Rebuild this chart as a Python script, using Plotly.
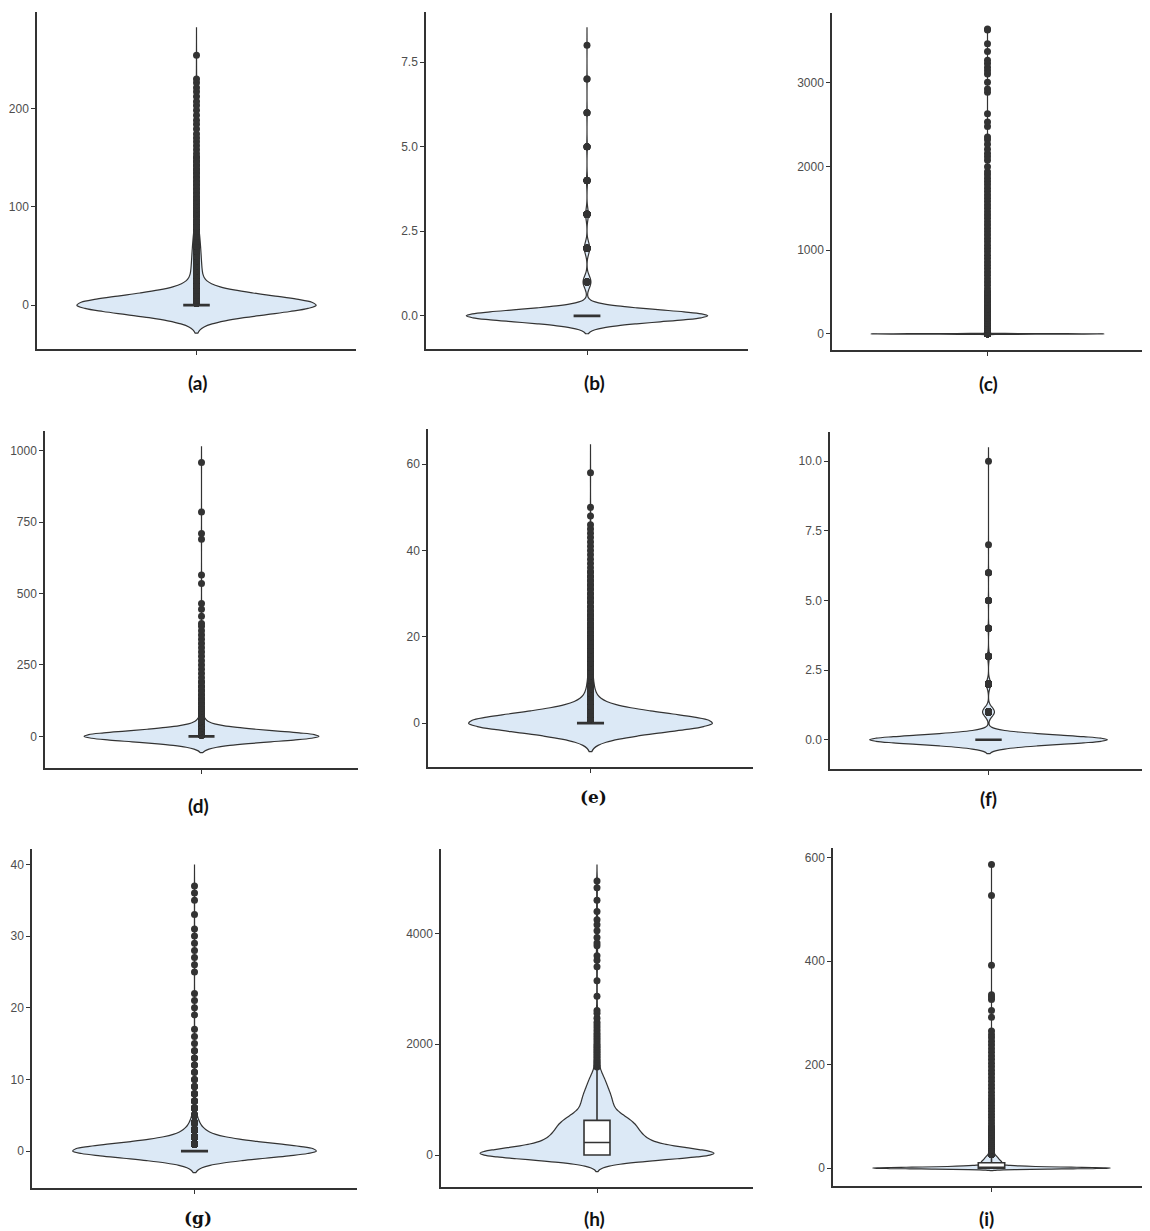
import numpy as np
import plotly.graph_objects as go

# ---------------- data (value / frequency tables) ----------------
# (a)
a_values = [0, 2, 5, 10, 15, 20, 25, 30, 35, 40, 45, 50, 55, 60, 65, 70, 75, 80, 85, 90,
            94, 98, 102, 106, 110, 114, 118, 122, 126, 130, 134, 138, 142, 146, 150]
a_counts = [2000, 20, 28, 27, 26, 25, 24, 22, 20, 19, 18, 17, 16, 15, 14, 12, 10, 8, 6, 4,
            3, 3, 3, 3, 2, 2, 2, 2, 2, 2, 2, 2, 2, 2, 2]
a_single = [154, 158, 162, 166, 170, 174, 179, 184, 188, 193, 198, 203, 207, 212, 217,
            221, 226, 230, 254]
a_ticks = [0, 100, 200]

# (b)
b_values = [0, 1, 2, 3, 4, 5, 6, 7]
b_counts = [2000, 65, 45, 22, 8, 5, 3, 2]
b_single = [8]
b_ticks = [0.0, 2.5, 5.0, 7.5]

# (c)
c_values = [0, 3, 8, 15, 25, 40, 60, 80, 100, 130, 160, 190, 220, 260, 300, 340, 380, 420, 460, 500]
c_counts = [3000, 40, 30, 20, 15, 10, 8, 6, 5, 4, 3, 3, 3, 3, 3, 2, 2, 2, 2, 2]
c_single = [540, 580, 620, 660, 700, 740, 780, 820, 860, 900, 940, 980, 1020, 1060, 1100,
            1140, 1180, 1220, 1260, 1300, 1340, 1380, 1420, 1460, 1500, 1540, 1580, 1620,
            1660, 1700, 1740, 1780, 1820, 1860, 1900, 1937, 1996, 2075, 2115, 2154, 2205,
            2265, 2320, 2352, 2478, 2530, 2628, 2885, 2925, 3004, 3103, 3142, 3182, 3229,
            3268, 3372, 3466, 3630, 3640]
c_ticks = [0, 1000, 2000, 3000]

# (d)
d_values = [0, 5, 10, 15, 20, 25, 30, 35, 40, 45, 50, 55, 60, 70, 80, 90, 100, 115, 130,
            145, 160, 175, 190]
d_counts = [2000, 22, 20, 18, 16, 14, 13, 12, 11, 10, 9, 8, 7, 6, 5, 4, 3, 3, 3,
            2, 2, 2, 2]
d_single = [205, 220, 235, 250, 265, 280, 295, 310, 325, 340, 355, 370, 385, 395, 420,
            445, 465, 535, 565, 690, 710, 785, 958]
d_ticks = [0, 250, 500, 750, 1000]

# (e)
e_values = [0, 1, 2, 3, 4, 5, 6, 7, 8, 9, 10, 11, 12, 13, 14, 15, 16, 17, 18, 19, 20,
            21, 22, 23, 24, 25, 26, 27, 28, 29, 30, 31, 32, 33, 34, 35]
e_counts = [2000, 60, 45, 35, 28, 22, 18, 15, 12, 10, 9, 8, 7, 7, 6, 6, 5, 5, 5, 4, 4,
            3, 3, 3, 3, 3, 2, 2, 2, 2, 2, 2, 2, 2, 2, 2]
e_single = [36, 37, 38, 39, 40, 41, 42, 43, 44, 45, 46, 48, 50, 58]
e_ticks = [0, 20, 40, 60]

# (f)
f_values = [0, 1, 2, 3, 4, 5, 6]
f_counts = [2000, 100, 34, 15, 6, 4, 3]
f_single = [7, 10]
f_ticks = [0.0, 2.5, 5.0, 7.5, 10.0]

# (g)
g_values = [0, 1, 2, 3, 4, 5, 6, 7, 8, 9, 10, 11, 12, 13, 14]
g_counts = [2000, 200, 110, 60, 30, 15, 8, 5, 4, 3, 2, 2, 2, 2, 2]
g_single = [15, 16, 17, 19, 20, 21, 22, 25, 26, 27, 28, 29, 30, 31, 33, 35, 36, 37]
g_ticks = [0, 10, 20, 30, 40]

# (h)
h_values = [0, 25, 75, 125, 175, 225, 275, 325, 375, 425, 475, 525, 575, 625, 675, 725,
            775, 825, 875, 925, 975, 1025, 1075, 1125, 1175, 1225, 1275, 1325, 1375, 1425, 1475]
h_counts = [300, 50, 50, 48, 46, 40, 38, 37, 33, 31, 31, 30, 29, 28, 24, 18,
            14, 13, 12, 12, 12, 11, 11, 10, 9, 8, 7, 7, 6, 5, 4]
h_single = [1510, 1540, 1560, 1590, 1620, 1650, 1680, 1700, 1730, 1760, 1790, 1820, 1850,
            1880, 1910, 1940, 1970, 2000, 2040, 2080, 2120, 2160, 2200, 2250, 2300, 2350,
            2400, 2470, 2560, 2610, 2870, 3150, 3400, 3520, 3600, 3780, 3830, 3930, 4050,
            4160, 4250, 4400, 4600, 4830, 4950]
h_ticks = [0, 2000, 4000]

# (i)
i_values = [0, 1, 2, 3, 4, 5, 6, 7, 8, 9, 10, 11, 12, 13, 14, 15, 16, 17, 18, 19, 20,
            21, 22, 23, 24, 25, 27, 30, 33, 36, 40, 44, 48, 52, 56, 60, 65, 70, 75, 80]
i_counts = [400, 120, 80, 50, 35, 25, 15, 10, 8, 7, 5, 15, 14, 13, 12, 11, 10, 10, 9, 9, 8,
            8, 7, 7, 6, 6, 12, 10, 8, 7, 6, 5, 4, 4, 3, 3, 3, 2, 2, 2]
i_single = [86, 92, 98, 104, 110, 116, 122, 128, 134, 140, 147, 154, 161, 168, 175, 182,
            189, 196, 203, 210, 217, 224, 231, 238, 245, 252, 258, 265, 292, 305, 326, 331,
            335, 392, 527, 587]
i_ticks = [0, 200, 400, 600]

labels = ["(a)", "(b)", "(c)", "(d)", "(e)", "(f)", "(g)", "(h)", "(i)"]

# ---------------- layout / style settings ----------------
PAGE_W, PAGE_H = 1150, 1231
OFF = 8  # default page body margin
W, H = PAGE_W - OFF, PAGE_H - OFF

panels = [
    dict(v=a_values, c=a_counts, s=a_single, t=a_ticks, fmt="", bw=9.5, span=[-28.5, 282.5],
         yr=[-44.6, 298.0], box=(37, 356, 12, 349), lab=(197, 382), serif=False, bl=2.6),
    dict(v=b_values, c=b_counts, s=b_single, t=b_ticks, fmt=".1f", bw=0.177, span=[-0.53, 8.53],
         yr=[-0.98, 8.98], box=(426, 748, 12, 349), lab=(595, 382), serif=False, bl=2.6),
    dict(v=c_values, c=c_counts, s=c_single, t=c_ticks, fmt="", bw=3.0, span=[-9, 3649],
         yr=[-192, 3832], box=(832, 1143, 13, 350), lab=(988, 383), serif=False, bl=2.0),
    dict(v=d_values, c=d_counts, s=d_single, t=d_ticks, fmt="", bw=19.0, span=[-57, 1015],
         yr=[-110.6, 1068.6], box=(45, 358, 431, 768), lab=(198, 805), serif=False, bl=2.6),
    dict(v=e_values, c=e_counts, s=e_single, t=e_ticks, fmt="", bw=2.2, span=[-6.6, 64.6],
         yr=[-10.16, 68.16], box=(428, 753, 429, 767), lab=(593, 797), serif=True, bl=2.6),
    dict(v=f_values, c=f_counts, s=f_single, t=f_ticks, fmt=".1f", bw=0.167, span=[-0.5, 10.5],
         yr=[-1.05, 11.05], box=(830, 1147, 432, 769), lab=(988, 798), serif=False, bl=2.6),
    dict(v=g_values, c=g_counts, s=g_single, t=g_ticks, fmt="", bw=1.0, span=[-3, 40],
         yr=[-5.15, 42.15], box=(32, 357, 849, 1188), lab=(198, 1218), serif=True, bl=2.6),
    dict(v=h_values, c=h_counts, s=h_single, t=h_ticks, fmt="", bw=100.0, span=[-300, 5250],
         yr=[-578, 5528], box=(441, 753, 849, 1187), lab=(595, 1218), serif=False, bl=1.6),
    dict(v=i_values, c=i_counts, s=i_single, t=i_ticks, fmt="", bw=1.5, span=[-4.5, 589],
         yr=[-34.2, 618.7], box=(833, 1150, 848, 1186), lab=(986, 1218), serif=False, bl=1.6),
]

fig = go.Figure()
layout = dict(width=W, height=H, margin=dict(l=0, r=0, t=0, b=0),
              paper_bgcolor="white", plot_bgcolor="white", showlegend=False,
              annotations=[])


def fx(px):
    return min(max((px - OFF) / W, 0.0), 1.0)


def fy(py):
    return min(max(1 - (py - OFF) / H, 0.0), 1.0)


for k, p in enumerate(panels, start=1):
    sfx = "" if k == 1 else str(k)
    y = np.concatenate([np.repeat(np.array(p["v"], dtype=float), p["c"]),
                        np.array(p["s"], dtype=float)])
    fig.add_trace(go.Violin(
        y=y, x0=0, xaxis="x" + sfx, yaxis="y" + sfx,
        width=0.9, bandwidth=p["bw"], spanmode="manual", span=p["span"],
        fillcolor="#dce9f6", line=dict(color="#333333", width=1.2),
        points="outliers", pointpos=0, jitter=0,
        marker=dict(size=7, color="#333333", line=dict(width=0)),
        box=dict(visible=True, width=0.111, fillcolor="white",
                 line=dict(color="#333333", width=p["bl"])),
        meanline=dict(visible=False), hoverinfo="skip", showlegend=False))

    l, r, t, b = p["box"]
    layout["xaxis" + sfx] = dict(
        domain=[fx(l), fx(r)], anchor="y" + sfx, type="linear", range=[-0.6, 0.6],
        showline=True, linecolor="#333333", linewidth=1.5, ticks="outside",
        tickvals=[0], ticktext=[""], ticklen=4, tickcolor="#333333", tickwidth=1.2,
        showgrid=False, zeroline=False)
    layout["yaxis" + sfx] = dict(
        domain=[fy(b), fy(t)], anchor="x" + sfx, range=p["yr"],
        showline=True, linecolor="#333333", linewidth=1.5, ticks="outside",
        tickvals=p["t"], tickformat=p["fmt"], ticklen=4, tickcolor="#333333", tickwidth=1.2,
        tickfont=dict(family="Liberation Sans, Arial, sans-serif", size=12, color="#4d4d4d"),
        showgrid=False, zeroline=False)
    lx, ly = p["lab"]
    layout["annotations"].append(dict(
        text="<b>" + labels[k - 1] + "</b>", x=fx(lx), y=fy(ly),
        xref="paper", yref="paper", xanchor="center", yanchor="middle", showarrow=False,
        font=dict(family="DejaVu Serif, serif" if p["serif"] else "Lato, Open Sans, sans-serif",
                  size=17 if p["serif"] else 19, color="#111111")))

fig.update_layout(**layout)
fig.write_html("out.html")
